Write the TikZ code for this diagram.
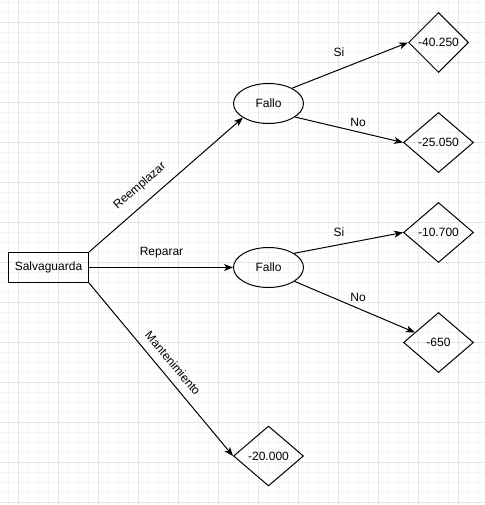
\documentclass[tikz,border=0pt]{standalone}
\usepackage{fontspec}
\setmainfont{Liberation Sans}
\usetikzlibrary{shapes.geometric,arrows.meta}
\begin{document}
\begin{tikzpicture}[x=1pt,y=-1pt,
  font=\fontsize{12}{14}\selectfont,
  box/.style={draw,line width=1pt,rectangle,minimum width=80pt,minimum height=30pt,inner sep=0pt},
  event/.style={draw,line width=1pt,ellipse,minimum width=70pt,minimum height=40pt,inner sep=0pt},
  outcome/.style={draw,line width=1pt,diamond,minimum width=70pt,minimum height=60pt,inner sep=0pt},
  link/.style={line width=1pt,-{Stealth[length=9pt,width=7pt,inset=2.5pt]}},
  lbl/.style={inner sep=0pt},
  minorgrid/.style={draw=gray!9,line width=1pt},
  majorgrid/.style={draw=gray!20,line width=1pt}]
% page background and grid
\fill[white] (0,0) rectangle (484,505);
\useasboundingbox (0,0) rectangle (484,505);
\foreach \x in {8.5,18.5,...,484} \draw[minorgrid] (\x,0) -- (\x,505);
\foreach \y in {2.5,12.5,...,505} \draw[minorgrid] (0,\y) -- (484,\y);
\foreach \x in {18.5,58.5,...,484} \draw[majorgrid] (\x,0) -- (\x,505);
\foreach \y in {22.5,62.5,...,505} \draw[majorgrid] (0,\y) -- (484,\y);

% decision, chance and result nodes
\node[box] (salv) at (48.5,267.5) {Salvaguarda};
\node[event] (f1) at (268.5,103.5) {Fallo};
\node[event] (f2) at (268.5,267.5) {Fallo};
\node[outcome,minimum width=60pt] (d1) at (438.5,42.5) {-40.250};
\node[outcome] (d2) at (438.5,142.5) {-25.050};
\node[outcome] (d3) at (438.5,232.5) {-10.700};
\node[outcome] (d4) at (438.5,342.5) {-650};
\node[outcome] (d5) at (268.5,456) {-20.000};

% branches
\draw[link] (salv.north east) -- (f1.209);
\draw[link] (salv.east) -- (f2.west);
\draw[link] (salv.south east) -- (d5.west);
\draw[link] (f1.33) -- (d1.west);
\draw[link] (f1.-27) -- (d2.west);
\draw[link] (f2.29) -- (d3.west);
\draw[link] (f2.-28) -- (d4);

% branch labels
\node[lbl,rotate=41] (lrem) at (140,186) {Reemplazar};
\node[lbl] (lrep) at (161.5,253) {Reparar};
\node[lbl,rotate=-50] (lman) at (173,363) {Mantenimiento};
\node[lbl] (ls1) at (339,52.5) {Si};
\node[lbl] (ln1) at (358,122.5) {No};
\node[lbl] (ls2) at (339,232.5) {Si};
\node[lbl] (ln2) at (358,297) {No};
\end{tikzpicture}
\end{document}
